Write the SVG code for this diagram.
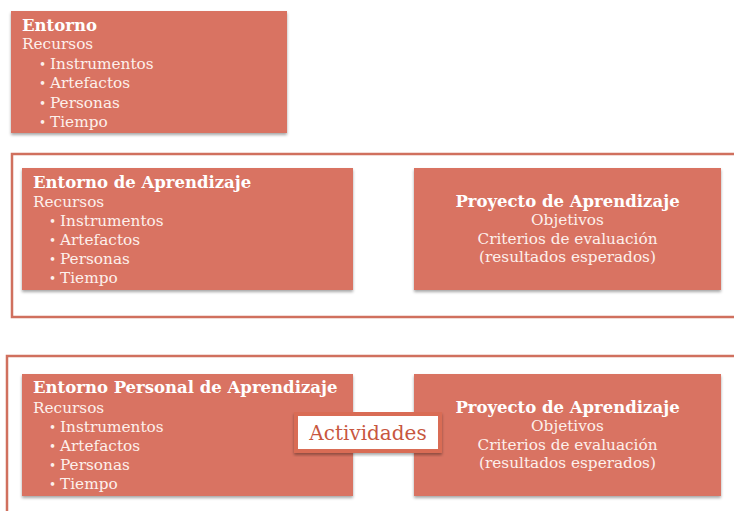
<svg xmlns="http://www.w3.org/2000/svg" width="734" height="511" viewBox="0 0 734 511">
<defs>
<filter id="sh" x="-5%" y="-5%" width="110%" height="120%">
<feDropShadow dx="0" dy="2" stdDeviation="1.5" flood-color="#000" flood-opacity="0.35"/>
</filter>
</defs>
<style>
.box{fill:#d97362;filter:url(#sh)}
.frame{fill:none;stroke:#d0705e;stroke-width:2.5}
text{font-family:"DejaVu Serif","Liberation Serif",serif;fill:#fdf0ec;font-size:15.3px}
.t{font-weight:bold;fill:#ffffff;font-size:16.5px}
.c{text-anchor:middle}
.b{font-size:12px}
.act{fill:#c8573f;font-size:20px;text-anchor:middle}
</style>
<rect width="734" height="511" fill="#ffffff"/>
<g id="frames">
<rect class="frame" x="12" y="154" width="740" height="163"/>
<rect class="frame" x="7" y="356" width="740" height="170"/>
</g>
<g id="entorno">
<rect class="box" x="11" y="11" width="276" height="122"/>
<text x="22" y="31" class="t">Entorno</text>
<text x="22" y="49">Recursos</text>
<text y="69"><tspan x="39" class="b">•</tspan><tspan x="50">Instrumentos</tspan></text>
<text y="88"><tspan x="39" class="b">•</tspan><tspan x="50">Artefactos</tspan></text>
<text y="108"><tspan x="39" class="b">•</tspan><tspan x="50">Personas</tspan></text>
<text y="127"><tspan x="39" class="b">•</tspan><tspan x="50">Tiempo</tspan></text>
</g>
<g id="entorno-aprendizaje">
<rect class="box" x="22" y="168" width="331" height="122"/>
<text x="33" y="188" class="t">Entorno de Aprendizaje</text>
<text x="33" y="207">Recursos</text>
<text y="226"><tspan x="49" class="b">•</tspan><tspan x="60">Instrumentos</tspan></text>
<text y="245"><tspan x="49" class="b">•</tspan><tspan x="60">Artefactos</tspan></text>
<text y="264"><tspan x="49" class="b">•</tspan><tspan x="60">Personas</tspan></text>
<text y="283"><tspan x="49" class="b">•</tspan><tspan x="60">Tiempo</tspan></text>
</g>
<g id="proyecto-1">
<rect class="box" x="414" y="168" width="307" height="122"/>
<text x="567.5" y="207" class="t c">Proyecto de Aprendizaje</text>
<text x="567.5" y="225" class="c">Objetivos</text>
<text x="567.5" y="244" class="c">Criterios de evaluación</text>
<text x="567.5" y="262" class="c">(resultados esperados)</text>
</g>
<g id="entorno-personal">
<rect class="box" x="22" y="374" width="331" height="122"/>
<text x="33" y="393" class="t">Entorno Personal de Aprendizaje</text>
<text x="33" y="413">Recursos</text>
<text y="432"><tspan x="49" class="b">•</tspan><tspan x="60">Instrumentos</tspan></text>
<text y="451"><tspan x="49" class="b">•</tspan><tspan x="60">Artefactos</tspan></text>
<text y="470"><tspan x="49" class="b">•</tspan><tspan x="60">Personas</tspan></text>
<text y="489"><tspan x="49" class="b">•</tspan><tspan x="60">Tiempo</tspan></text>
</g>
<g id="proyecto-2">
<rect class="box" x="414" y="374" width="307" height="122"/>
<text x="567.5" y="413" class="t c">Proyecto de Aprendizaje</text>
<text x="567.5" y="431" class="c">Objetivos</text>
<text x="567.5" y="450" class="c">Criterios de evaluación</text>
<text x="567.5" y="468" class="c">(resultados esperados)</text>
</g>
<g id="actividades">
<rect x="296" y="414" width="144" height="37" fill="#ffffff" stroke="#d96c55" stroke-width="4" filter="url(#sh)"/>
<text x="368" y="440" class="act">Actividades</text>
</g>
<g id="connectors"></g>
</svg>
